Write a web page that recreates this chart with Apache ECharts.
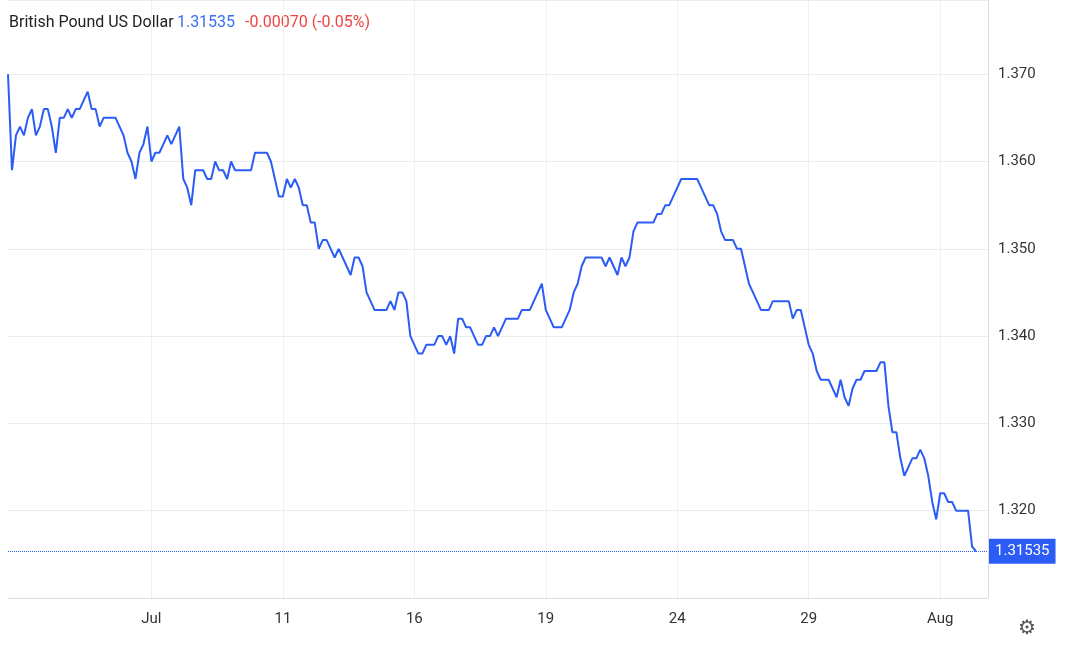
<!DOCTYPE html>
<html>
<head>
<meta charset="utf-8">
<script src="https://cdn.jsdelivr.net/npm/echarts@6/dist/echarts.min.js"></script>
<style>html,body{margin:0;padding:0;background:#fff}#chart{width:1068px;height:648px}</style>
</head>
<body>
<div id="chart"></div>
<script>
// price samples, left to right
const prices = [
  1.370, 1.359, 1.363, 1.364, 1.363, 1.365, 1.366, 1.363, 1.364, 1.366, 1.366, 1.364, 1.361, 1.365, 1.365, 1.366,
  1.365, 1.366, 1.366, 1.367, 1.368, 1.366, 1.366, 1.364, 1.365, 1.365, 1.365, 1.365, 1.364, 1.363, 1.361, 1.360,
  1.358, 1.361, 1.362, 1.364, 1.360, 1.361, 1.361, 1.362, 1.363, 1.362, 1.363, 1.364, 1.358, 1.357, 1.355, 1.359,
  1.359, 1.359, 1.358, 1.358, 1.360, 1.359, 1.359, 1.358, 1.360, 1.359, 1.359, 1.359, 1.359, 1.359, 1.361, 1.361,
  1.361, 1.361, 1.360, 1.358, 1.356, 1.356, 1.358, 1.357, 1.358, 1.357, 1.355, 1.355, 1.353, 1.353, 1.350, 1.351,
  1.351, 1.350, 1.349, 1.350, 1.349, 1.348, 1.347, 1.349, 1.349, 1.348, 1.345, 1.344, 1.343, 1.343, 1.343, 1.343,
  1.344, 1.343, 1.345, 1.345, 1.344, 1.340, 1.339, 1.338, 1.338, 1.339, 1.339, 1.339, 1.340, 1.340, 1.339, 1.340,
  1.338, 1.342, 1.342, 1.341, 1.341, 1.340, 1.339, 1.339, 1.340, 1.340, 1.341, 1.340, 1.341, 1.342, 1.342, 1.342,
  1.342, 1.343, 1.343, 1.343, 1.344, 1.345, 1.346, 1.343, 1.342, 1.341, 1.341, 1.341, 1.342, 1.343, 1.345, 1.346,
  1.348, 1.349, 1.349, 1.349, 1.349, 1.349, 1.348, 1.349, 1.348, 1.347, 1.349, 1.348, 1.349, 1.352, 1.353, 1.353,
  1.353, 1.353, 1.353, 1.354, 1.354, 1.355, 1.355, 1.356, 1.357, 1.358, 1.358, 1.358, 1.358, 1.358, 1.357, 1.356,
  1.355, 1.355, 1.354, 1.352, 1.351, 1.351, 1.351, 1.350, 1.350, 1.348, 1.346, 1.345, 1.344, 1.343, 1.343, 1.343,
  1.344, 1.344, 1.344, 1.344, 1.344, 1.342, 1.343, 1.343, 1.341, 1.339, 1.338, 1.336, 1.335, 1.335, 1.335, 1.334,
  1.333, 1.335, 1.333, 1.332, 1.334, 1.335, 1.335, 1.336, 1.336, 1.336, 1.336, 1.337, 1.337, 1.332, 1.329, 1.329,
  1.326, 1.324, 1.325, 1.326, 1.326, 1.327, 1.326, 1.324, 1.321, 1.319, 1.322, 1.322, 1.321, 1.321, 1.320, 1.320,
  1.320, 1.320, 1.3159, 1.31535
];
const tickLabels = ['Jul', '11', '16', '19', '24', '29', 'Aug'];
const tickIndex = [36, 69, 102, 135, 168, 201, 234];
const lastPrice = 1.31535;
const titleName = 'British Pound US Dollar';
const changeText = '-0.00070 (-0.05%)';

const padded = prices.concat([null, null, null]);
const categories = padded.map((v, i) => {
  const k = tickIndex.indexOf(i);
  return k >= 0 ? tickLabels[k] : '';
});

const chart = echarts.init(document.getElementById('chart'));
chart.setOption({
  animation: false,
  textStyle: { fontFamily: 'Roboto, Arial, sans-serif' },
  grid: { left: 8, right: 80, top: 0, bottom: 50 },
  graphic: [{
    type: 'text', left: 9, top: 15,
    style: {
      text: '{a|' + titleName + '} {b|' + lastPrice.toFixed(5) + '}   {c|' + changeText + '}',
      rich: {
        a: { fontSize: 16, fill: '#222', fontFamily: 'Roboto, Arial' },
        b: { fontSize: 16, fill: '#3b6ef0', fontFamily: 'Roboto, Arial' },
        c: { fontSize: 16, fill: '#ef4444', fontFamily: 'Roboto, Arial' }
      }
    }
  }, {
    type: 'text', right: 32, bottom: 10,
    style: { text: '⚙', fontSize: 20, fill: '#555' }
  }],
  xAxis: {
    type: 'category', data: categories, boundaryGap: false,
    axisLine: { lineStyle: { color: '#ddd' } },
    axisTick: { show: false },
    axisLabel: {
      interval: (i) => tickIndex.indexOf(i) >= 0,
      color: '#333', fontSize: 15, margin: 14
    },
    splitLine: {
      show: true, interval: (i) => tickIndex.indexOf(i) >= 0,
      lineStyle: { color: '#f0f0f0' }
    }
  },
  yAxis: {
    type: 'value', position: 'right', min: 1.310, max: 1.3785, interval: 0.01,
    axisLine: { show: true, lineStyle: { color: '#ddd' } },
    axisTick: { show: false },
    axisLabel: {
      color: '#333', fontSize: 15, margin: 10,
      formatter: (v) => (Math.abs(v - 1.31) < 1e-6 || v > 1.375) ? '' : v.toFixed(3)
    },
    splitLine: { lineStyle: { color: '#ececec' } }
  },
  series: [{
    type: 'line', data: padded, showSymbol: false, smooth: false,
    lineStyle: { color: '#2c5cf6', width: 2 },
    markLine: {
      symbol: 'none', silent: true, precision: 5,
      lineStyle: { color: '#2c5cf6', type: 'dotted', width: 1 },
      label: {
        position: 'end', formatter: lastPrice.toFixed(5),
        backgroundColor: '#2c5cf6', color: '#fff', fontSize: 15,
        padding: [5, 6], distance: 1
      },
      data: [{ yAxis: lastPrice }]
    }
  }]
});
</script>
</body>
</html>
